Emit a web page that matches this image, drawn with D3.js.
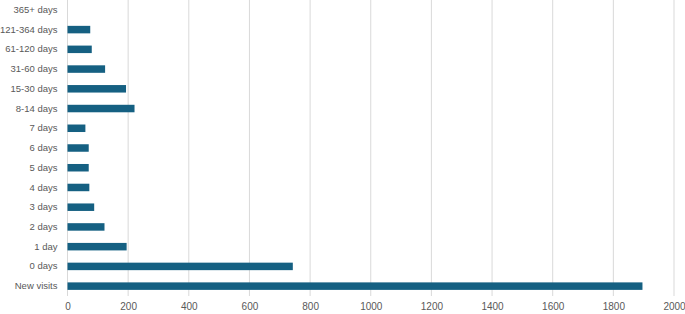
<!DOCTYPE html>
<html>
<head>
<meta charset="utf-8">
<script src="https://cdn.jsdelivr.net/npm/d3@7"></script>
<style>
  body { margin: 0; background: #fff; }
  text { font-family: "Liberation Sans", Arial, sans-serif; fill: #595959; }
</style>
</head>
<body>
<div id="chart"></div>
<script>
// categories, top to bottom as drawn
const categories = ["365+ days", "121-364 days", "61-120 days", "31-60 days", "15-30 days",
  "8-14 days", "7 days", "6 days", "5 days", "4 days", "3 days", "2 days", "1 day",
  "0 days", "New visits"];
const visits = [0, 75, 80, 124, 193, 221, 59, 70, 70, 72, 88, 122, 195, 743, 1896];
const xTicks = [0, 200, 400, 600, 800, 1000, 1200, 1400, 1600, 1800, 2000];

const width = 685, height = 314;
const margin = { top: 0, right: 11, bottom: 18, left: 67.5 };

const svg = d3.select("#chart")
  .append("svg")
  .attr("width", width)
  .attr("height", height);

const x = d3.scaleLinear()
  .domain([0, 2000])
  .range([margin.left, width - margin.right]);

const y = d3.scaleBand()
  .domain(categories)
  .range([margin.top, height - margin.bottom])
  .paddingInner(0.62)
  .paddingOuter(0.31);

// gridlines
svg.append("g")
  .selectAll("line")
  .data(xTicks)
  .join("line")
  .attr("x1", d => x(d)).attr("x2", d => x(d))
  .attr("y1", margin.top).attr("y2", height - margin.bottom)
  .attr("stroke", "#d9d9d9")
  .attr("stroke-width", 1);

// bars
svg.append("g")
  .selectAll("rect")
  .data(visits)
  .join("rect")
  .attr("x", x(0))
  .attr("y", (d, i) => y(categories[i]))
  .attr("width", d => x(d) - x(0))
  .attr("height", y.bandwidth())
  .attr("fill", "#156082");

// x axis labels
const xAxis = svg.append("g")
  .attr("transform", `translate(0, ${height - margin.bottom})`)
  .call(d3.axisBottom(x).tickValues(xTicks).tickFormat(d3.format("d")).tickSize(0).tickPadding(7));
xAxis.select(".domain").remove();
xAxis.selectAll("text").style("font-size", "10px").attr("fill", "#595959");

// y axis labels
const yAxis = svg.append("g")
  .attr("transform", `translate(${margin.left}, 0)`)
  .call(d3.axisLeft(y).tickSize(0).tickPadding(10));
yAxis.select(".domain").remove();
yAxis.selectAll("text").style("font-size", "9.5px").attr("fill", "#595959");
</script>
</body>
</html>
